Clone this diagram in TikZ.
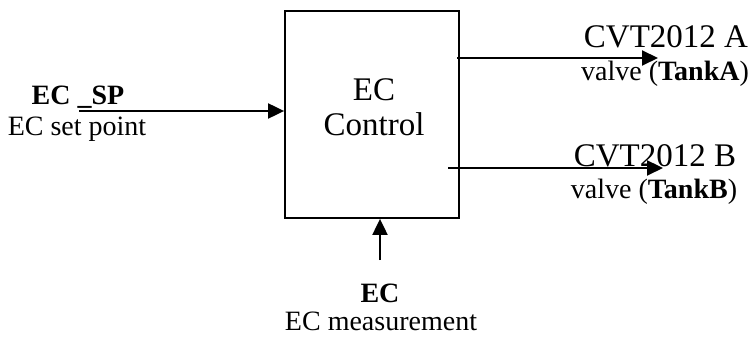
\documentclass[tikz,border=0pt]{standalone}
\usepackage{fontspec}
\setmainfont{Liberation Serif}
\usetikzlibrary{arrows.meta}
\tikzset{
  conn/.style={line width=2pt, -{Triangle[length=16pt,width=15pt]}},
  lbl/.style={inner sep=0pt, anchor=base},
  big/.style={font=\fontsize{33}{38}\selectfont},
  mid/.style={font=\fontsize{28}{32}\selectfont},
}
\begin{document}
\begin{tikzpicture}[x=1pt,y=-1pt]
\useasboundingbox (0,0) rectangle (752,339);
% block
\node[draw, line width=1.8pt, minimum width=174pt, minimum height=207pt, inner sep=0pt] (box) at (372,114.5) {};
\node[lbl,big] (t1) at (374,101) {EC};
\node[lbl,big] (t2) at (374,136) {Control};
% input
\coordinate (inA) at (79,111);
\draw[conn] (inA) -- (box.west |- inA);
\node[lbl,mid] (sp) at (78,105) {\textbf{EC \_SP}};
\node[lbl,mid] (spl) at (77,136) {EC set point};
% outputs
\coordinate (oA0) at (457,58);
\coordinate (oA) at (658,58);
\draw[conn] (oA0) -- (oA);
\node[lbl,big] (ca) at (666,48) {CVT2012 A};
\node[lbl,mid] (va) at (665,81) {valve (\textbf{TankA})};
\coordinate (oB0) at (448,168);
\coordinate (oB) at (663,168);
\draw[conn] (oB0) -- (oB);
\node[lbl,big] (cb) at (655,167) {CVT2012 B};
\node[lbl,mid] (vb) at (654,199) {valve (\textbf{TankB})};
% bottom input
\coordinate (m0) at (380,260);
\draw[conn] (m0) -- (box.south -| m0);
\node[lbl,mid] (ec) at (380,302) {\textbf{EC}};
\node[lbl,mid] (ecm) at (381,330) {EC measurement};
\end{tikzpicture}
\end{document}
